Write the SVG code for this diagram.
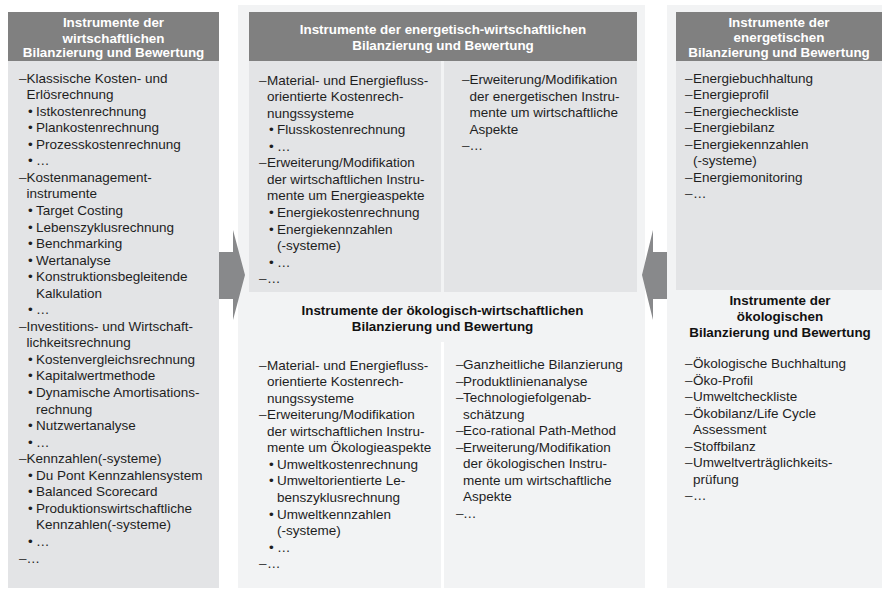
<svg xmlns="http://www.w3.org/2000/svg" width="882" height="589" viewBox="0 0 882 589">
<style>
.panel{fill:#f2f3f4}
.body{fill:#e3e4e6}
.head{fill:#808080}
.h{font-family:"Liberation Sans",Arial,sans-serif;font-size:13.4px;font-weight:bold;fill:#ffffff;text-anchor:middle}
.b{font-family:"Liberation Sans",Arial,sans-serif;font-size:13.4px;font-weight:bold;fill:#111111;text-anchor:middle}
.t{font-family:"Liberation Sans",Arial,sans-serif;font-size:13.5px;fill:#1e1e1e}
.d{fill:#3a3a3a}
.sep{stroke:#ffffff;stroke-width:3}
.arrow{fill:#88898b}
</style>
<rect width="882" height="589" fill="#ffffff"/>

<g id="wirtschaftlich">
<rect class="body" x="8" y="12" width="211" height="576"/>
<rect class="head" x="8" y="12" width="211" height="49"/>
<text class="h" x="113.5" y="27">Instrumente der</text>
<text class="h" x="113.5" y="42.5">wirtschaftlichen</text>
<text class="h" x="113.5" y="57">Bilanzierung und Bewertung</text>
<g class="t">
<text y="82.5"><tspan class="d" x="19">–</tspan><tspan x="26.5">Klassische Kosten- und</tspan></text>
<text x="26.5" y="99">Erlösrechnung</text>
<text y="115.6"><tspan x="28">•</tspan><tspan x="36">Istkostenrechnung</tspan></text>
<text y="132.2"><tspan x="28">•</tspan><tspan x="36">Plankostenrechnung</tspan></text>
<text y="148.7"><tspan x="28">•</tspan><tspan x="36">Prozesskostenrechnung</tspan></text>
<text y="165.3"><tspan x="28">•</tspan><tspan x="36">…</tspan></text>
<text y="181.8"><tspan class="d" x="19">–</tspan><tspan x="26.5">Kostenmanagement-</tspan></text>
<text x="26.5" y="198.4">instrumente</text>
<text y="214.9"><tspan x="28">•</tspan><tspan x="36">Target Costing</tspan></text>
<text y="231.5"><tspan x="28">•</tspan><tspan x="36">Lebenszyklusrechnung</tspan></text>
<text y="248"><tspan x="28">•</tspan><tspan x="36">Benchmarking</tspan></text>
<text y="264.6"><tspan x="28">•</tspan><tspan x="36">Wertanalyse</tspan></text>
<text y="281.1"><tspan x="28">•</tspan><tspan x="36">Konstruktionsbegleitende</tspan></text>
<text x="36" y="297.7">Kalkulation</text>
<text y="314.2"><tspan x="28">•</tspan><tspan x="36">…</tspan></text>
<text y="330.8"><tspan class="d" x="19">–</tspan><tspan x="26.5">Investitions- und Wirtschaft-</tspan></text>
<text x="26.5" y="347.3">lichkeitsrechnung</text>
<text y="363.9"><tspan x="28">•</tspan><tspan x="36">Kostenvergleichsrechnung</tspan></text>
<text y="380.4"><tspan x="28">•</tspan><tspan x="36">Kapitalwertmethode</tspan></text>
<text y="397"><tspan x="28">•</tspan><tspan x="36">Dynamische Amortisations-</tspan></text>
<text x="36" y="413.5">rechnung</text>
<text y="430.1"><tspan x="28">•</tspan><tspan x="36">Nutzwertanalyse</tspan></text>
<text y="446.6"><tspan x="28">•</tspan><tspan x="36">…</tspan></text>
<text y="463.2"><tspan class="d" x="19">–</tspan><tspan x="26.5">Kennzahlen(-systeme)</tspan></text>
<text y="479.7"><tspan x="28">•</tspan><tspan x="36">Du Pont Kennzahlensystem</tspan></text>
<text y="496.3"><tspan x="28">•</tspan><tspan x="36">Balanced Scorecard</tspan></text>
<text y="512.8"><tspan x="28">•</tspan><tspan x="36">Produktionswirtschaftliche</tspan></text>
<text x="36" y="529.4">Kennzahlen(-systeme)</text>
<text y="545.9"><tspan x="28">•</tspan><tspan x="36">…</tspan></text>
<text y="562.5"><tspan class="d" x="19">–</tspan><tspan x="26.5">…</tspan></text>
</g>
</g>

<rect class="panel" x="238" y="5" width="407" height="583"/>
<rect class="panel" x="667" y="5" width="215" height="583"/>

<g id="energetisch-wirtschaftlich">
<rect class="body" x="249" y="61" width="192" height="231"/>
<rect class="body" x="444" y="61" width="193" height="231"/>
<rect class="head" x="249" y="12" width="388" height="49"/>
<text class="h" x="443" y="34">Instrumente der energetisch-wirtschaftlichen</text>
<text class="h" x="443" y="50">Bilanzierung und Bewertung</text>
<g class="t">
<text y="84.5"><tspan class="d" x="259">–</tspan><tspan x="267">Material- und Energiefluss-</tspan></text>
<text x="267" y="101.1">orientierte Kostenrech-</text>
<text x="267" y="117.6">nungssysteme</text>
<text y="134.2"><tspan x="269">•</tspan><tspan x="277">Flusskostenrechnung</tspan></text>
<text y="150.7"><tspan x="269">•</tspan><tspan x="277">…</tspan></text>
<text y="167.3"><tspan class="d" x="259">–</tspan><tspan x="267">Erweiterung/Modifikation</tspan></text>
<text x="267" y="183.8">der wirtschaftlichen Instru-</text>
<text x="267" y="200.4">mente um Energieaspekte</text>
<text y="216.9"><tspan x="269">•</tspan><tspan x="277">Energiekostenrechnung</tspan></text>
<text y="233.5"><tspan x="269">•</tspan><tspan x="277">Energiekennzahlen</tspan></text>
<text x="277" y="250">(-systeme)</text>
<text y="266.6"><tspan x="269">•</tspan><tspan x="277">…</tspan></text>
<text y="283.1"><tspan class="d" x="259">–</tspan><tspan x="267">…</tspan></text>

<text y="84"><tspan class="d" x="462">–</tspan><tspan x="469.5">Erweiterung/Modifikation</tspan></text>
<text x="469.5" y="100.6">der energetischen Instru-</text>
<text x="469.5" y="117.1">mente um wirtschaftliche</text>
<text x="469.5" y="133.7">Aspekte</text>
<text y="150.2"><tspan class="d" x="462">–</tspan><tspan x="469.5">…</tspan></text>
</g>
</g>

<g id="oekologisch-wirtschaftlich">
<line class="sep" x1="442.5" y1="342" x2="442.5" y2="588"/>
<text class="b" x="442.5" y="315">Instrumente der ökologisch-wirtschaftlichen</text>
<text class="b" x="442.5" y="331">Bilanzierung und Bewertung</text>
<g class="t">
<text y="369.5"><tspan class="d" x="259">–</tspan><tspan x="267">Material- und Energiefluss-</tspan></text>
<text x="267" y="386.1">orientierte Kostenrech-</text>
<text x="267" y="402.6">nungssysteme</text>
<text y="419.2"><tspan class="d" x="259">–</tspan><tspan x="267">Erweiterung/Modifikation</tspan></text>
<text x="267" y="435.7">der wirtschaftlichen Instru-</text>
<text x="267" y="452.3">mente um Ökologieaspekte</text>
<text y="468.8"><tspan x="269">•</tspan><tspan x="277">Umweltkostenrechnung</tspan></text>
<text y="485.4"><tspan x="269">•</tspan><tspan x="277">Umweltorientierte Le-</tspan></text>
<text x="277" y="501.9">benszyklusrechnung</text>
<text y="518.5"><tspan x="269">•</tspan><tspan x="277">Umweltkennzahlen</tspan></text>
<text x="277" y="535">(-systeme)</text>
<text y="551.6"><tspan x="269">•</tspan><tspan x="277">…</tspan></text>
<text y="568.1"><tspan class="d" x="259">–</tspan><tspan x="267">…</tspan></text>

<text y="369"><tspan class="d" x="456">–</tspan><tspan x="463">Ganzheitliche Bilanzierung</tspan></text>
<text y="385.6"><tspan class="d" x="456">–</tspan><tspan x="463">Produktlinienanalyse</tspan></text>
<text y="402.1"><tspan class="d" x="456">–</tspan><tspan x="463">Technologiefolgenab-</tspan></text>
<text x="463" y="418.7">schätzung</text>
<text y="435.2"><tspan class="d" x="456">–</tspan><tspan x="463">Eco-rational Path-Method</tspan></text>
<text y="451.8"><tspan class="d" x="456">–</tspan><tspan x="463">Erweiterung/Modifikation</tspan></text>
<text x="463" y="468.3">der ökologischen Instru-</text>
<text x="463" y="484.9">mente um wirtschaftliche</text>
<text x="463" y="501.4">Aspekte</text>
<text y="518"><tspan class="d" x="456">–</tspan><tspan x="463">…</tspan></text>
</g>
</g>

<g id="energetisch">
<rect class="body" x="676" y="12" width="206" height="278"/>
<rect class="head" x="676" y="12" width="206" height="49"/>
<text class="h" x="779" y="26.5">Instrumente der</text>
<text class="h" x="779" y="42">energetischen</text>
<text class="h" x="779" y="57">Bilanzierung und Bewertung</text>
<g class="t">
<text y="82.5"><tspan class="d" x="685">–</tspan><tspan x="693">Energiebuchhaltung</tspan></text>
<text y="99.1"><tspan class="d" x="685">–</tspan><tspan x="693">Energieprofil</tspan></text>
<text y="115.6"><tspan class="d" x="685">–</tspan><tspan x="693">Energiecheckliste</tspan></text>
<text y="132.2"><tspan class="d" x="685">–</tspan><tspan x="693">Energiebilanz</tspan></text>
<text y="148.7"><tspan class="d" x="685">–</tspan><tspan x="693">Energiekennzahlen</tspan></text>
<text x="693" y="165.3">(-systeme)</text>
<text y="181.8"><tspan class="d" x="685">–</tspan><tspan x="693">Energiemonitoring</tspan></text>
<text y="198.4"><tspan class="d" x="685">–</tspan><tspan x="693">…</tspan></text>
</g>
</g>

<g id="oekologisch">
<text class="b" x="780" y="305">Instrumente der</text>
<text class="b" x="780" y="321">ökologischen</text>
<text class="b" x="780" y="337">Bilanzierung und Bewertung</text>
<g class="t">
<text y="368"><tspan class="d" x="685">–</tspan><tspan x="693">Ökologische Buchhaltung</tspan></text>
<text y="384.6"><tspan class="d" x="685">–</tspan><tspan x="693">Öko-Profil</tspan></text>
<text y="401.1"><tspan class="d" x="685">–</tspan><tspan x="693">Umweltcheckliste</tspan></text>
<text y="417.7"><tspan class="d" x="685">–</tspan><tspan x="693">Ökobilanz/Life Cycle</tspan></text>
<text x="693" y="434.2">Assessment</text>
<text y="450.8"><tspan class="d" x="685">–</tspan><tspan x="693">Stoffbilanz</tspan></text>
<text y="467.3"><tspan class="d" x="685">–</tspan><tspan x="693">Umweltverträglichkeits-</tspan></text>
<text x="693" y="483.9">prüfung</text>
<text y="500.4"><tspan class="d" x="685">–</tspan><tspan x="693">…</tspan></text>
</g>
</g>

<g id="connectors">
<polygon class="arrow" points="219,252 233,252 233,230 245,275 233,320 233,299 219,299"/>
<polygon class="arrow" points="667,252 653,252 653,230 642,275 653,320 653,299 667,299"/>
</g>
</svg>
